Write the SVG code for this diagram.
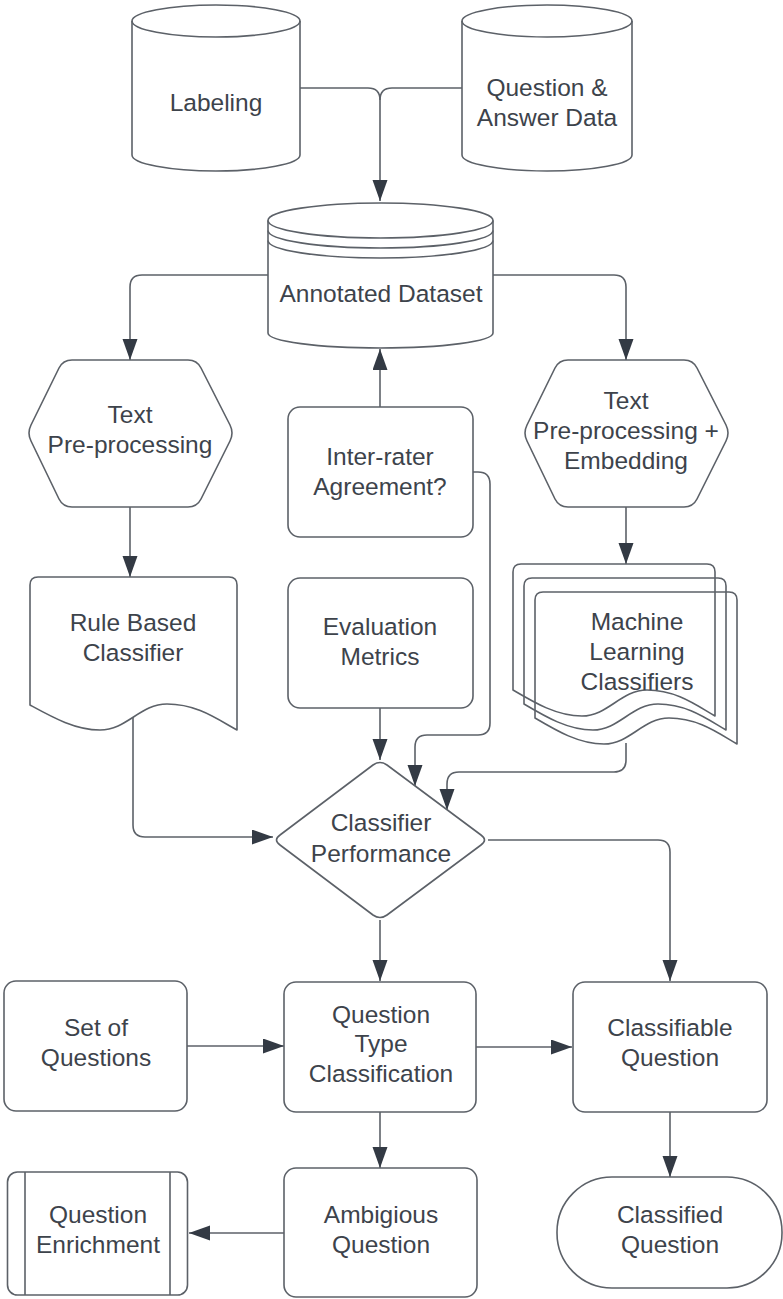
<svg xmlns="http://www.w3.org/2000/svg" width="783" height="1299" viewBox="0 0 783 1299">
<defs>
<marker id="ah" markerUnits="userSpaceOnUse" markerWidth="22" markerHeight="16" refX="21" refY="7.5" orient="auto">
<path d="M0,0 L21,7.5 L0,15 Z" fill="#333a44"/>
</marker>
<style>
.s{fill:#ffffff;stroke:#5c6168;stroke-width:1.6;stroke-linejoin:round}
.d{fill:none;stroke:#5c6168;stroke-width:1.6;stroke-linejoin:round}
.c{fill:none;stroke:#5c6168;stroke-width:1.6;marker-end:url(#ah)}
.l{fill:none;stroke:#5c6168;stroke-width:1.6}
text{font-family:"Liberation Sans",Arial,sans-serif;font-size:24.5px;fill:#3d434b;text-anchor:middle}
</style>
</defs>
<rect width="783" height="1299" fill="#ffffff"/>

<g id="connectors">
<path class="l" d="M300,88 H368 Q380,88 380,100"/>
<path class="c" d="M462,88 H392 Q380,88 380,100 V201"/>
<path class="c" d="M268,275 H142 Q130,275 130,287 V360"/>
<path class="c" d="M493,275 H614 Q626,275 626,287 V360"/>
<path class="c" d="M130,507 V577"/>
<path class="c" d="M626,507 V564"/>
<path class="c" d="M380,407 V349"/>
<path class="c" d="M473,472 H478 Q490,472 490,484 V723 Q490,735 478,735 H427 Q415,735 415,747 V786"/>
<path class="c" d="M380,708 V760"/>
<path class="c" d="M133,717 V825 Q133,837 145,837 H273"/>
<path class="c" d="M626,743 V760 Q626,772 614,772 H459 Q447,772 447,784 V810"/>
<path class="c" d="M488,840 H658 Q670,840 670,852 V981"/>
<path class="c" d="M380,920 V981"/>
<path class="c" d="M187,1046 H284"/>
<path class="c" d="M476,1047 H572"/>
<path class="c" d="M380,1112 V1168"/>
<path class="c" d="M670,1112 V1177"/>
<path class="c" d="M284,1233 H189"/>
</g>

<g id="labeling">
<path class="s" d="M132,21 A84,16 0 0 1 300,21 V155 A84,16 0 0 1 132,155 Z"/>
<path class="l" d="M132,21 A84,16 0 0 0 300,21"/>
<text x="216" y="111">Labeling</text>
</g>

<g id="qa-data">
<path class="s" d="M462,21 A85,16 0 0 1 632,21 V155 A85,16 0 0 1 462,155 Z"/>
<path class="l" d="M462,21 A85,16 0 0 0 632,21"/>
<text x="547" y="96">Question &amp;</text>
<text x="547" y="126">Answer Data</text>
</g>

<g id="annotated-dataset">
<path class="s" d="M268,220.5 A112.5,17.5 0 0 1 493,220.5 V333 A112.5,15 0 0 1 268,333 Z"/>
<path class="l" d="M268,220.5 A112.5,17.5 0 0 0 493,220.5"/>
<path class="l" d="M268,230.5 A112.5,17.5 0 0 0 493,230.5"/>
<path class="l" d="M268,240.5 A112.5,17.5 0 0 0 493,240.5"/>
<text x="381" y="302">Annotated Dataset</text>
</g>

<g id="text-preprocessing">
<path class="s" d="M72,360 H188 Q197,360 201,368 L230,425 Q234,433 230,441 L201,499 Q197,507 188,507 H72 Q63,507 59,499 L31,441 Q27,433 31,425 L59,368 Q63,360 72,360 Z"/>
<text x="130" y="423">Text</text>
<text x="130" y="453">Pre-processing</text>
</g>

<g id="text-preprocessing-embedding">
<path class="s" d="M568,360 H684 Q693,360 697,368 L726,425 Q730,433 726,441 L697,499 Q693,507 684,507 H568 Q559,507 555,499 L527,441 Q523,433 527,425 L555,368 Q559,360 568,360 Z"/>
<text x="626" y="409">Text</text>
<text x="626" y="439">Pre-processing +</text>
<text x="626" y="469">Embedding</text>
</g>

<g id="inter-rater">
<rect class="s" x="288" y="407" width="185" height="130" rx="12"/>
<text x="380" y="465">Inter-rater</text>
<text x="380" y="495">Agreement?</text>
</g>

<g id="evaluation-metrics">
<rect class="s" x="288" y="578" width="185" height="130" rx="12"/>
<text x="380" y="635">Evaluation</text>
<text x="380" y="665">Metrics</text>
</g>

<g id="rule-based">
<path class="s" transform="translate(30,577)" d="M0,8 Q0,0 8,0 H199 Q207,0 207,8 V153 C187,142 167,127 137,127 C110,127 97,153 70,153 C45,153 22,140 0,128 Z"/>
<text x="133" y="631">Rule Based</text>
<text x="133" y="661">Classifier</text>
</g>

<g id="ml-classifiers">
<path class="d" transform="translate(513,564)" d="M0,8 Q0,0 8,0 H194 Q202,0 202,8 V152 C183,141 163,126 134,126 C108,126 95,152 69,152 C44,152 22,139 0,126 Z"/>
<path class="d" transform="translate(524,578)" d="M0,8 Q0,0 8,0 H194 Q202,0 202,8 V152 C183,141 163,126 134,126 C108,126 95,152 69,152 C44,152 22,139 0,126 Z"/>
<path class="d" transform="translate(535,592)" d="M0,8 Q0,0 8,0 H194 Q202,0 202,8 V152 C183,141 163,126 134,126 C108,126 95,152 69,152 C44,152 22,139 0,126 Z"/>
<text x="637" y="630">Machine</text>
<text x="637" y="660">Learning</text>
<text x="637" y="690">Classifiers</text>
</g>

<g id="classifier-performance">
<path class="s" d="M373,765 Q380,760 387,765 L481,835 Q488,840 481,845 L387,915 Q380,920 373,915 L280,845 Q273,840 280,835 Z"/>
<text x="381" y="831">Classifier</text>
<text x="381" y="862">Performance</text>
</g>

<g id="set-of-questions">
<rect class="s" x="4" y="981" width="183" height="130" rx="12"/>
<text x="96" y="1036">Set of</text>
<text x="96" y="1066">Questions</text>
</g>

<g id="question-type-classification">
<rect class="s" x="284" y="982" width="192" height="130" rx="12"/>
<text x="381" y="1023">Question</text>
<text x="381" y="1052">Type</text>
<text x="381" y="1082">Classification</text>
</g>

<g id="classifiable-question">
<rect class="s" x="573" y="982" width="194" height="130" rx="12"/>
<text x="670" y="1036">Classifiable</text>
<text x="670" y="1066">Question</text>
</g>

<g id="ambigious-question">
<rect class="s" x="284" y="1168" width="193" height="129" rx="12"/>
<text x="381" y="1223">Ambigious</text>
<text x="381" y="1253">Question</text>
</g>

<g id="question-enrichment">
<rect class="s" x="7.5" y="1172" width="180" height="123" rx="10"/>
<path class="l" d="M25,1172 V1295 M170,1172 V1295"/>
<text x="98" y="1223">Question</text>
<text x="98" y="1253">Enrichment</text>
</g>

<g id="classified-question">
<rect class="s" x="557" y="1177" width="225" height="111" rx="55"/>
<text x="670" y="1223">Classified</text>
<text x="670" y="1253">Question</text>
</g>
</svg>
